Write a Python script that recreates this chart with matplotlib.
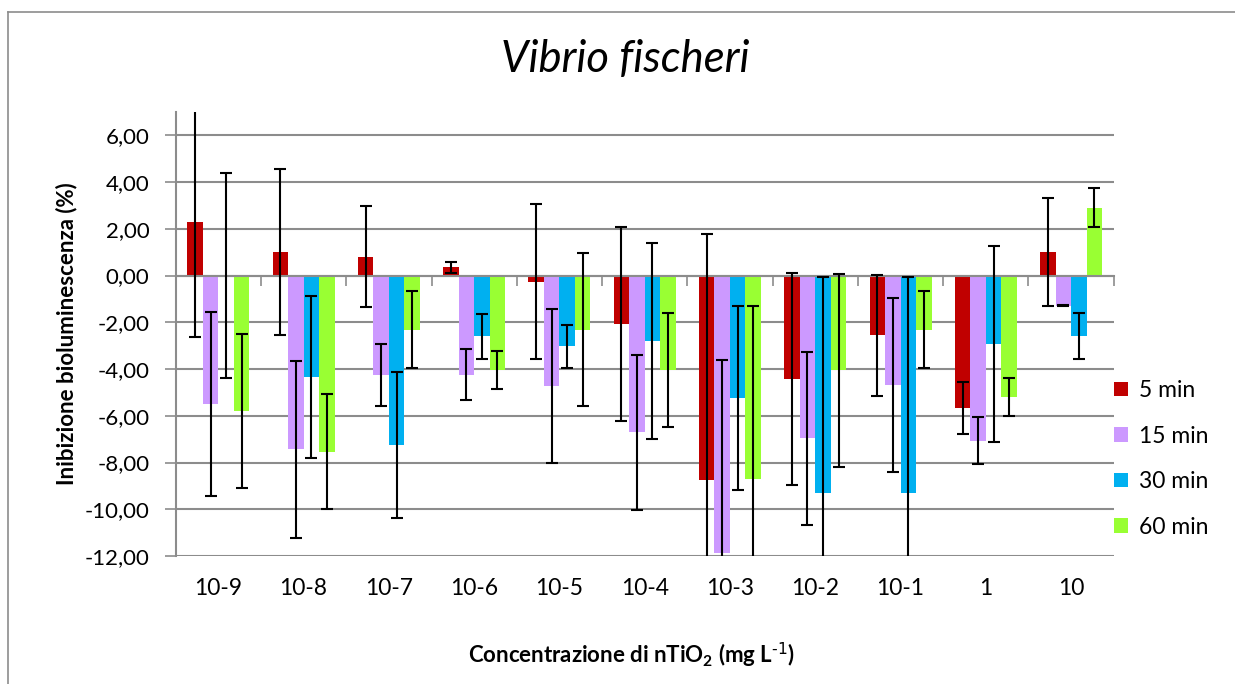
import matplotlib
matplotlib.use("Agg")
import matplotlib.pyplot as plt
import matplotlib.transforms as mtransforms
from matplotlib.lines import Line2D
from matplotlib.patches import Patch
from matplotlib.ticker import FixedLocator, FuncFormatter
import numpy as np

plt.rcParams['font.family'] = ['Lato', 'DejaVu Sans']
plt.rcParams['mathtext.default'] = 'regular'

# Concentrations of nTiO2 (mg/L)
categories = ['10-9', '10-8', '10-7', '10-6', '10-5', '10-4',
              '10-3', '10-2', '10-1', '1', '10']

series_names = ['5 min', '15 min', '30 min', '60 min']
colors = ['#C00000', '#CC99FF', '#00B0F0', '#99FF33']

# Bioluminescence inhibition (%) per exposure time
inh_5 = [2.31, 1.01, 0.81, 0.36, -0.27, -2.07, -8.74, -4.43, -2.56, -5.66, 0.99]
inh_15 = [-5.50, -7.44, -4.24, -4.24, -4.73, -6.71, -11.89, -6.97, -4.69, -7.06, -1.29]
inh_30 = [0.02, -4.34, -7.24, -2.59, -3.03, -2.79, -5.23, -9.30, -9.30, -2.93, -2.59]
inh_60 = [-5.79, -7.53, -2.31, -4.04, -2.31, -4.04, -8.70, -4.06, -2.31, -5.20, 2.91]

# Standard deviations
err_5 = [4.95, 3.57, 2.17, 0.23, 3.32, 4.15, 10.53, 4.52, 2.60, 1.10, 2.31]
err_15 = [3.93, 3.77, 1.32, 1.08, 3.28, 3.33, 8.28, 3.71, 3.73, 0.99, 0.02]
err_30 = [4.39, 3.45, 3.12, 0.96, 0.92, 4.19, 3.94, 9.23, 9.23, 4.20, 0.97]
err_60 = [3.28, 2.47, 1.64, 0.82, 3.28, 2.46, 7.39, 4.12, 1.63, 0.82, 0.82]

values = [inh_5, inh_15, inh_30, inh_60]
errors = [err_5, err_15, err_30, err_60]

y_ticks = [-12, -10, -8, -6, -4, -2, 0, 2, 4, 6]

W, H = 1235, 684
fig = plt.figure(figsize=(W / 100, H / 100), dpi=100)
ax = fig.add_axes([175.7 / W, 1 - 556 / H, (1113.7 - 175.7) / W, (556 - 112) / H])

# Chart frame (left and top edges)
frame_c = '#8c8c8c'
fig.add_artist(Line2D([7.5 / W, 7.5 / W], [0, 1 - 12 / H], transform=fig.transFigure,
                      color=frame_c, linewidth=1.2))
fig.add_artist(Line2D([7.5 / W, 1], [1 - 12 / H, 1 - 12 / H], transform=fig.transFigure,
                      color=frame_c, linewidth=1.2))

x = np.arange(len(categories))
n = len(series_names)
bw = 1.0 / (n + 1.5)
grid_c = '#8c8c8c'

for i, (vals, errs, col, name) in enumerate(zip(values, errors, colors, series_names)):
    pos = x + (i - (n - 1) / 2) * bw
    ax.bar(pos, vals, width=bw, color=col, label=name, zorder=2)
    ax.errorbar(pos, vals, yerr=errs, fmt='none', ecolor='black',
                elinewidth=1.5, capsize=4.3, capthick=1.5, zorder=3)

ax.set_xlim(-0.5, len(categories) - 0.5)
ax.set_ylim(-12, 7)

ax.yaxis.set_major_locator(FixedLocator(y_ticks))
ax.yaxis.set_major_formatter(FuncFormatter(lambda v, p: f"{v:.2f}".replace('.', ',')))
ax.grid(axis='y', color=grid_c, linewidth=1.5, zorder=0)
ax.set_axisbelow(True)
ax.tick_params(axis='y', direction='out', length=8, width=1.2, color=grid_c,
               labelsize=16, pad=11, labelcolor='black')

# Category axis crosses at zero, labels kept at the bottom
for s in ('top', 'right'):
    ax.spines[s].set_visible(False)
ax.spines['left'].set_color(grid_c)
ax.spines['left'].set_linewidth(1.5)
ax.spines['bottom'].set_position(('data', 0))
ax.spines['bottom'].set_color(grid_c)
ax.spines['bottom'].set_linewidth(1.5)
ax.xaxis.set_major_locator(FixedLocator(np.arange(len(categories) + 1) - 0.5))
ax.tick_params(axis='x', direction='out', length=7, width=1.2, color=grid_c,
               labelbottom=False)

lab_tr = mtransforms.blended_transform_factory(ax.transData, ax.transAxes)
for xi, c in zip(x, categories):
    ax.text(xi, -0.0743, c, transform=lab_tr, ha='center', va='center', fontsize=16.5)

fig.text(625 / W, 1 - 72 / H, 'Vibrio fischeri', ha='center', va='baseline',
         fontsize=31.4, style='italic')
fig.text(67 / W, 1 - 334 / H, 'Inibizione bioluminescenza (%)', rotation=90,
         ha='center', va='center', fontsize=16, fontweight='bold')
fig.text(632 / W, 1 - 663 / H, r'Concentrazione di nTiO$_{2}$ (mg L$^{\text{-1}}$)',
         ha='center', va='baseline', fontsize=16, fontweight='bold')

handles = [Patch(facecolor=c, edgecolor='none') for c in colors]
ax.legend(handles, series_names, loc='upper left',
          bbox_to_anchor=(1114 / W, 1 - 380 / H), bbox_transform=fig.transFigure,
          frameon=False, fontsize=16.5, handlelength=0.62, handleheight=0.62,
          handletextpad=0.45, labelspacing=1.07, borderaxespad=0, borderpad=0)

fig.savefig('out.png', dpi=100)
